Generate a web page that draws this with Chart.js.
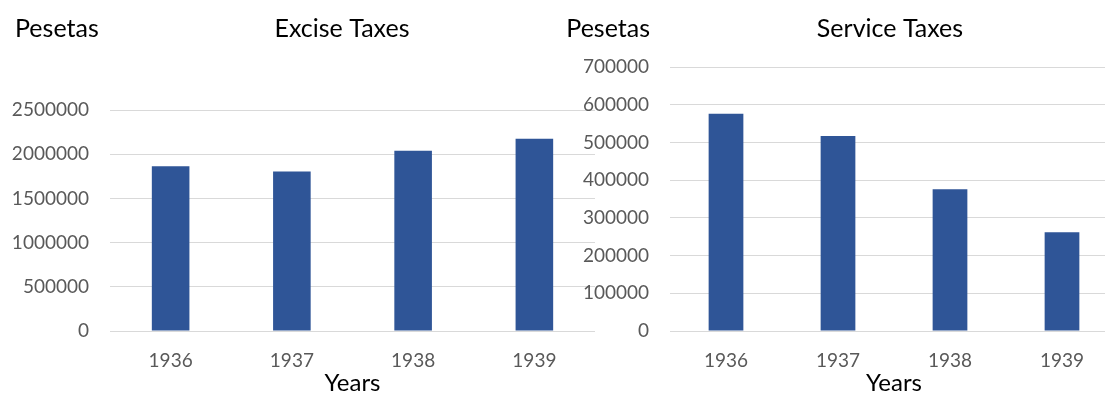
<!DOCTYPE html>
<html>
<head>
<meta charset="utf-8">
<script src="https://cdn.jsdelivr.net/npm/chart.js@4"></script>
<style>
  html, body { margin: 0; padding: 0; background: #fff; overflow: hidden; width: 1105px; height: 394px; }
  .box { position: absolute; top: 0; height: 410px; }
  #left { left: 0; width: 600px; }
  #right { left: 560px; width: 560px; }
</style>
</head>
<body>
<div class="box" id="left"><canvas id="exciseChart"></canvas></div>
<div class="box" id="right"><canvas id="serviceChart"></canvas></div>
<script>
const years = ["1936", "1937", "1938", "1939"];
const exciseValues = [1864000, 1803000, 2038000, 2174000];
const serviceValues = [576000, 517000, 376000, 262000];
const exciseTicks = [0, 500000, 1000000, 1500000, 2000000, 2500000];
const serviceTicks = [0, 100000, 200000, 300000, 400000, 500000, 600000, 700000];

const fontFamily = "Lato, 'Open Sans', sans-serif";
const barColor = "#2F5597";

// chart title and the "Pesetas" unit label, both horizontal above the plot
function headings(title, titleX, unitX, unitAlign) {
  return {
    id: "headings",
    afterDraw(chart) {
      const c = chart.ctx;
      c.save();
      c.font = "25px " + fontFamily;
      c.fillStyle = "#000";
      c.textBaseline = "middle";
      c.textAlign = "center";
      c.fillText(title, titleX, 29);
      c.textAlign = unitAlign;
      c.fillText("Pesetas", unitX, 29);
      c.restore();
    },
  };
}

function makeChart(id, values, ticks, padTop, padRight, heads) {
  return new Chart(id, {
    type: "bar",
    data: {
      labels: years,
      datasets: [
        {
          data: values,
          backgroundColor: barColor,
          barPercentage: 0.62,
          categoryPercentage: 0.5,
        },
      ],
    },
    options: {
      responsive: true,
      maintainAspectRatio: false,
      animation: false,
      layout: { padding: { left: 0, right: padRight, top: padTop, bottom: 0 } },
      plugins: {
        legend: { display: false },
        tooltip: { enabled: false },
      },
      scales: {
        x: {
          grid: { display: false, drawTicks: false },
          border: { display: false },
          ticks: { color: "#595959", padding: 18, font: { family: fontFamily, size: 19 } },
          title: {
            display: true,
            text: "Years",
            color: "#000",
            font: { family: fontFamily, size: 24 },
            padding: { top: 0, bottom: 12 },
          },
          afterFit(scale) {
            scale.height = 79;
          },
        },
        y: {
          min: 0,
          max: ticks[ticks.length - 1],
          afterBuildTicks(scale) {
            scale.ticks = ticks.map((v) => ({ value: v }));
          },
          grid: { color: "#D9D9D9", lineWidth: 1, drawTicks: false },
          border: { display: false },
          ticks: {
            color: "#595959",
            padding: 21,
            font: { family: fontFamily, size: 19 },
            callback: (v) => String(v),
          },
          afterFit(scale) {
            scale.width = 110;
          },
        },
      },
    },
    plugins: [heads],
  });
}

makeChart("exciseChart", exciseValues, exciseTicks, 110, 5, headings("Excise Taxes", 342, 15, "left"));
makeChart("serviceChart", serviceValues, serviceTicks, 67, 2, headings("Service Taxes", 330, 90, "right"));
</script>
</body>
</html>
